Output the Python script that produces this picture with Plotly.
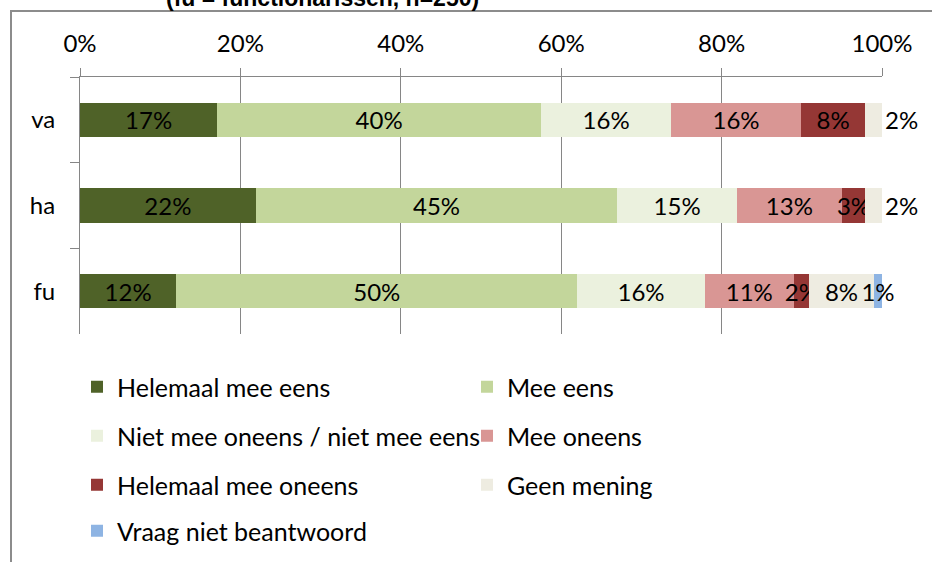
import plotly.graph_objects as go

categories = ["va", "ha", "fu"]
series_names = [
    "Helemaal mee eens",
    "Mee eens",
    "Niet mee oneens / niet mee eens",
    "Mee oneens",
    "Helemaal mee oneens",
    "Geen mening",
    "Vraag niet beantwoord",
]
helemaal_mee_eens = [17.1, 21.9, 12.0]
mee_eens = [40.4, 45.1, 50.0]
niet_mee_oneens = [16.2, 14.9, 15.9]
mee_oneens = [16.2, 13.1, 11.1]
helemaal_mee_oneens = [8.0, 2.9, 1.9]
geen_mening = [2.1, 2.1, 8.1]
vraag_niet_beantwoord = [None, None, 1.0]
x_ticks = [0, 20, 40, 60, 80, 100]
x_tick_labels = [f"{v}%" for v in x_ticks]

series_values = [helemaal_mee_eens, mee_eens, niet_mee_oneens, mee_oneens,
                 helemaal_mee_oneens, geen_mening, vraag_niet_beantwoord]
colors = ["#4F6228", "#C3D69B", "#EBF1DE", "#D99694", "#953735", "#EEECE1", "#8EB4E3"]
legend_ids = ["legend", "legend", "legend2", "legend2", "legend3", "legend3", "legend4"]

FONT = "Lato"
FS = 24
fig = go.Figure()
for name, vals, col, lg in zip(series_names, series_values, colors, legend_ids):
    tp = "inside"
    if name == "Geen mening":
        tp = ["outside", "outside", "inside"]
    fig.add_trace(go.Bar(
        y=categories, x=vals, name=name, orientation="h",
        marker=dict(color=col, line=dict(width=0)),
        texttemplate="%{x:.0f}%", textposition=tp, insidetextanchor="middle",
        textangle=0, constraintext="none", cliponaxis=False,
        textfont=dict(family=FONT, size=FS, color="black"),
        outsidetextfont=dict(family=FONT, size=FS, color="black"),
        legend=lg,
    ))

# page body margin is removed in post_script, so the figure fills the window
W, H = 932, 562
L, R, T, B = 80, 50, 77, 228
ph = H - T - B
pw = W - L - R

def py(p):
    return (H - B - p) / ph

def px(p):
    return (p - L) / pw

legend_common = dict(orientation="h", entrywidth=345, font=dict(family=FONT, size=25, color="black"),
                     bgcolor="rgba(0,0,0,0)", x=px(77), xanchor="left", yanchor="middle",
                     traceorder="normal")

fig.update_layout(
    width=W, height=H,
    margin=dict(l=L, r=R, t=T, b=B, autoexpand=False),
    paper_bgcolor="white", plot_bgcolor="white",
    barmode="stack", bargap=0.6,
    uniformtext=dict(minsize=FS, mode="show"),
    font=dict(family=FONT, size=FS, color="black"),
    xaxis=dict(side="top", range=[0, 100], tickmode="array", tickvals=x_ticks, ticktext=x_tick_labels,
               showgrid=True, gridcolor="#868686", gridwidth=1,
               ticks="outside", ticklen=8, tickcolor="#868686", ticklabelstandoff=6,
               showline=True, linecolor="#868686", linewidth=1, zeroline=False, automargin=False,
               tickfont=dict(family=FONT, size=FS, color="black"), fixedrange=True),
    yaxis=dict(categoryorder="array", categoryarray=categories, autorange="reversed",
               tickson="boundaries", ticks="outside", ticklen=9, tickcolor="#868686",
               ticklabelstandoff=19, automargin=False,
               showline=True, linecolor="#868686", linewidth=1, showgrid=False,
               tickfont=dict(family=FONT, size=FS, color="black"), fixedrange=True),
    legend=dict(legend_common, y=py(387)),
    legend2=dict(legend_common, y=py(436)),
    legend3=dict(legend_common, y=py(485)),
    legend4=dict(legend_common, y=py(531)),
    showlegend=True,
)

# chart frame (partially visible border of the original chart area)
fig.add_shape(type="line", xref="paper", yref="paper", x0=px(10), x1=px(940), y0=py(11), y1=py(11),
              line=dict(color="#8C8C8C", width=2))
fig.add_shape(type="line", xref="paper", yref="paper", x0=px(11), x1=px(11), y0=py(11), y1=py(570),
              line=dict(color="#8C8C8C", width=2))

fig.add_annotation(text="<b>(fu = functionarissen, n=250)</b>", xref="paper", yref="paper",
                   x=px(322), y=py(13), xanchor="center", yanchor="bottom", showarrow=False,
                   font=dict(family="Liberation Sans", size=23, color="black"))

fig.write_html("out.html", config={"displayModeBar": False},
               post_script="document.body.style.margin='0px';document.body.style.overflow='hidden';")
